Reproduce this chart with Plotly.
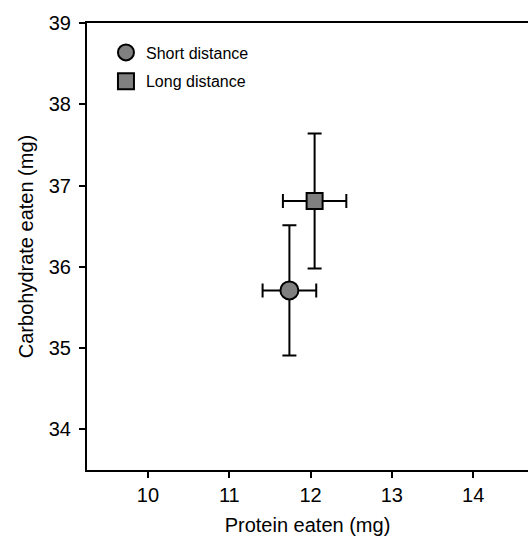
import plotly.graph_objects as go

# Data
groups = ["Short distance", "Long distance"]
protein_mean = [11.74, 12.05]
protein_err = [0.33, 0.39]
carb_mean = [35.71, 36.81]
carb_err = [0.80, 0.83]
symbols = ["circle", "square"]
marker_sizes = [18, 16]

x_ticks = [10, 11, 12, 13, 14]
y_ticks = [34, 35, 36, 37, 38, 39]

font_family = "Arial, Liberation Sans, sans-serif"

fig = go.Figure()
for i, g in enumerate(groups):
    fig.add_trace(go.Scatter(
        x=[protein_mean[i]], y=[carb_mean[i]],
        mode="markers",
        name=g,
        legendgroup=g,
        marker=dict(symbol=symbols[i], size=marker_sizes[i], color="#808080",
                    line=dict(color="black", width=2)),
        error_x=dict(type="data", array=[protein_err[i]], color="black", thickness=2, width=7),
        error_y=dict(type="data", array=[carb_err[i]], color="black", thickness=2, width=7),
    ))

fig.update_layout(
    width=528, height=536,
    margin=dict(l=87, r=0, t=23, b=66),
    plot_bgcolor="white", paper_bgcolor="white",
    font=dict(family=font_family, color="black"),
    showlegend=True,
    legend=dict(x=0.043, y=0.972, xanchor="left", yanchor="top",
                font=dict(size=16, family=font_family), bgcolor="rgba(0,0,0,0)",
                tracegroupgap=5, itemsizing="trace"),
    xaxis=dict(range=[9.25, 14.675], tickvals=x_ticks, ticks="outside", ticklen=6, tickwidth=2,
               tickcolor="black", showline=True, linecolor="black", linewidth=2, mirror=True,
               showgrid=False, zeroline=False, tickfont=dict(size=20),
               title=dict(text="Protein eaten (mg)", font=dict(size=20), standoff=14)),
    yaxis=dict(range=[33.5, 39], tickvals=y_ticks, ticks="outside", ticklen=6, tickwidth=2,
               tickcolor="black", showline=True, linecolor="black", linewidth=2, mirror=False,
               showgrid=False, zeroline=False, tickfont=dict(size=20), ticklabelstandoff=4,
               title=dict(text="Carbohydrate eaten (mg)", font=dict(size=20), standoff=10)),
)

fig.write_html("out.html", config={"displayModeBar": False},
               post_script="document.body.style.margin='0';document.body.style.overflow='hidden';")
